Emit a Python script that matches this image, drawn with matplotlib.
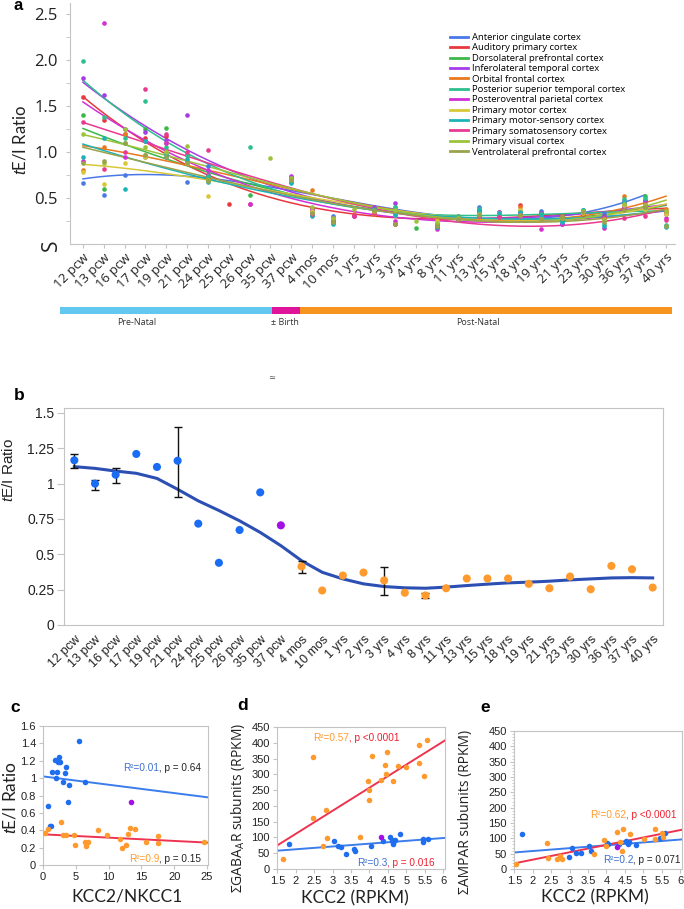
import numpy as np
import matplotlib
matplotlib.use("Agg")
import matplotlib.pyplot as plt
from matplotlib.lines import Line2D

plt.rcParams["mathtext.fontset"] = "custom"
plt.rcParams["mathtext.it"] = "Liberation Sans:italic"
plt.rcParams["mathtext.rm"] = "Liberation Sans"

nan = np.nan
W, H = 684, 909

# ---------------- data ----------------
ages = ["12 pcw", "13 pcw", "16 pcw", "17 pcw", "19 pcw", "21 pcw", "24 pcw", "25 pcw", "26 pcw",
        "35 pcw", "37 pcw", "4 mos", "10 mos", "1 yrs", "2 yrs", "3 yrs", "4 yrs", "8 yrs", "11 yrs",
        "13 yrs", "15 yrs", "18 yrs", "19 yrs", "21 yrs", "23 yrs", "30 yrs", "36 yrs", "37 yrs", "40 yrs"]

regions = ["Anterior cingulate cortex", "Auditory primary cortex", "Dorsolateral prefrontal cortex",
           "Inferolateral temporal cortex", "Orbital frontal cortex", "Posterior superior temporal cortex",
           "Posteroventral parietal cortex", "Primary motor cortex", "Primary motor-sensory cortex",
           "Primary somatosensory cortex", "Primary visual cortex", "Ventrolateral prefrontal cortex"]
region_colors = ["#4a78e6", "#e8383d", "#3cb84a", "#a63ce8", "#e8791e", "#2dbf8c",
                 "#d22fd6", "#d8c838", "#1bb3b8", "#e83a90", "#9cc43a", "#9aa24a"]

acc   = [0.66, 0.53, 0.75, 0.95, 0.95, 0.67, 0.85, nan, nan, nan, 0.68, 0.36, 0.30, nan, 0.36, 0.33, nan, 0.22, 0.28, 0.40, 0.35, 0.36, 0.36, 0.30, 0.37, 0.34, 0.44, 0.47, nan]
aud   = [1.60, 1.35, 1.20, 1.15, 1.17, 0.97, 0.75, 0.44, 0.43, nan, 0.72, 0.38, 0.25, 0.30, 0.36, 0.22, nan, 0.19, 0.27, 0.36, 0.30, 0.42, 0.27, 0.26, 0.33, 0.28, 0.45, 0.40, 0.35]
dlpfc = [1.40, 0.60, 1.10, 1.25, 1.26, 0.97, 0.73, nan, 0.53, nan, 0.70, 0.35, 0.24, nan, 0.38, 0.40, 0.17, 0.21, 0.28, 0.37, nan, 0.33, 0.34, 0.27, 0.35, 0.30, 0.40, 0.52, 0.20]
ilt   = [1.80, 1.62, 1.25, 1.22, 1.13, 1.40, 0.75, nan, nan, nan, 0.74, 0.37, 0.28, nan, 0.40, 0.45, nan, 0.18, 0.27, 0.33, nan, 0.33, 0.34, 0.22, nan, 0.30, 0.47, 0.48, 0.33]
ofc   = [0.80, 1.05, 1.20, 0.97, 1.10, 0.90, 0.72, nan, nan, nan, 0.71, 0.59, 0.25, 0.33, 0.33, 0.35, nan, 0.26, 0.30, 0.30, nan, 0.40, 0.30, 0.30, 0.36, 0.28, 0.52, 0.44, 0.38]
stc   = [1.99, 1.38, 1.15, 1.55, 1.05, 0.97, 0.74, nan, 1.05, nan, 0.67, 0.32, 0.23, nan, 0.37, 0.40, nan, 0.22, 0.30, 0.38, 0.33, 0.36, 0.33, 0.25, 0.37, 0.22, 0.49, 0.50, 0.21]
pvp   = [0.90, 2.40, 0.95, 1.12, 1.10, 0.88, 0.80, nan, 0.43, nan, 0.73, 0.38, 0.26, 0.30, 0.37, 0.25, nan, 0.16, 0.27, 0.34, 0.35, 0.34, 0.16, 0.22, nan, 0.17, 0.40, 0.42, 0.28]
m1    = [0.78, 0.65, 0.88, 0.95, 1.00, 0.88, 0.52, nan, nan, nan, 0.70, 0.36, 0.27, nan, 0.35, 0.32, nan, 0.25, 0.26, 0.33, 0.34, 0.37, 0.27, 0.28, 0.34, 0.26, 0.42, 0.38, 0.33]
m1s1  = [0.95, 1.15, 0.60, 1.12, 0.98, 0.92, 0.67, nan, nan, nan, 0.66, 0.30, 0.22, nan, 0.38, 0.32, nan, 0.19, 0.26, 0.37, 0.34, 0.35, 0.30, 0.24, 0.37, 0.20, 0.46, 0.40, 0.19]
s1    = [1.33, 0.82, 1.00, 1.68, 1.20, 1.00, 1.02, nan, nan, nan, 0.71, 0.33, 0.25, 0.32, 0.34, 0.22, nan, 0.22, 0.26, 0.30, 0.29, 0.30, 0.27, 0.28, nan, 0.28, 0.28, 0.30, 0.26]
v1    = [1.20, 0.88, 1.25, 1.05, 1.00, 1.06, 0.70, nan, nan, 0.93, 0.72, 0.40, 0.28, 0.38, 0.36, 0.37, 0.25, 0.23, 0.28, 0.33, nan, 0.31, 0.27, 0.28, 0.36, 0.27, 0.43, 0.42, 0.36]
vlpfc = [0.88, 0.90, 1.10, 0.97, 0.95, 0.88, 0.68, nan, nan, nan, 0.70, 0.34, 0.24, nan, 0.37, 0.22, nan, 0.20, 0.27, 0.31, nan, 0.32, 0.27, 0.29, 0.35, 0.24, 0.37, 0.40, 0.20]
region_vals = [acc, aud, dlpfc, ilt, ofc, stc, pvp, m1, m1s1, s1, v1, vlpfc]

stages = ["Pre-Natal", "± Birth", "Post-Natal"]
stage_colors = ["#62c8f0", "#e0149b", "#f7941d"]
stage_edges = [-1.1, 9.08, 10.42, 28.29]      # in age-index units

# panel b: mean tE/I across regions
b_ratio = [1.165, 1.0, 1.063, 1.21, 1.118, 1.162, 0.717, 0.44, 0.672, 0.938, 0.705, 0.414, 0.244, 0.35, 0.371,
           0.315, 0.228, 0.209, 0.26, 0.329, 0.329, 0.329, 0.291, 0.26, 0.343, 0.253, 0.418, 0.394, 0.265]
b_err_lo = [1.108, 0.958, 1.005, nan, nan, 0.906, nan, nan, nan, nan, nan, 0.366, nan, nan, nan,
            0.209, nan, 0.188, nan, nan, nan, nan, nan, nan, nan, nan, nan, nan, nan]
b_err_hi = [1.207, 1.028, 1.11, nan, nan, 1.404, nan, nan, nan, nan, nan, 0.453, nan, nan, nan,
            0.408, nan, 0.225, nan, nan, nan, nan, nan, nan, nan, nan, nan, nan, nan]
b_fit = [1.12, 1.108, 1.089, 1.073, 1.037, 0.96, 0.878, 0.81, 0.737, 0.655, 0.561, 0.455, 0.373, 0.326, 0.291,
         0.272, 0.263, 0.26, 0.268, 0.279, 0.289, 0.298, 0.303, 0.31, 0.319, 0.326, 0.333, 0.335, 0.333]
b_stage = ["pre"] * 10 + ["birth"] + ["post"] * 18
point_colors = {"pre": "#1a6cf5", "birth": "#a40fe6", "post": "#ff9a2e"}

# panel c: tE/I vs KCC2/NKCC1
c_pre_x = [0.77, 1.12, 1.28, 1.38, 1.79, 1.94, 2.14, 2.30, 2.45, 2.55, 3.06, 3.30, 3.57, 3.83, 3.98, 5.50, 6.38]
c_pre_y = [0.68, 0.45, 0.45, 1.07, 1.21, 1.00, 1.07, 1.19, 1.24, 1.18, 0.95, 1.06, 1.13, 0.73, 0.92, 1.43, 0.95]
c_post_x = [0.26, 0.77, 2.70, 3.06, 3.50, 4.70, 4.85, 6.38, 6.60, 6.90, 8.40, 9.80, 11.8, 12.1, 12.7, 12.9,
            13.2, 14.0, 15.7, 17.55, 17.55, 24.6]
c_post_y = [0.37, 0.42, 0.49, 0.34, 0.35, 0.34, 0.23, 0.27, 0.22, 0.27, 0.40, 0.34, 0.30, 0.20, 0.23, 0.36,
            0.43, 0.42, 0.27, 0.33, 0.25, 0.26]
c_birth = [13.4, 0.72]
c_pre_line = [1.02, -0.0096]      # intercept, slope
c_post_line = [0.353, -0.0038]

# panel d: GABAAR vs KCC2
d_pre_x = [1.81, 3.05, 3.14, 3.23, 3.36, 3.59, 3.61, 4.05, 4.38, 4.56, 4.61, 4.63, 4.64, 4.70, 4.84, 5.44, 5.44, 5.60]
d_pre_y = [80, 88, 72, 70, 49, 64, 57, 74, 88, 100, 92, 82, 78, 93, 110, 94, 87, 96]
d_post_x = [1.66, 2.47, 2.47, 2.73, 2.82, 2.85, 3.73, 3.96, 4.0, 4.0, 4.07, 4.32, 4.43, 4.45, 4.48, 4.65,
            4.77, 5.0, 5.34, 5.34, 5.48, 5.55]
d_post_y = [33, 354, 162, 72, 186, 98, 101, 279, 249, 219, 358, 283, 328, 301, 371, 280, 327, 322, 393, 335, 294, 409]
d_birth = [4.32, 100]
d_pre_line = [44.7, 8.9]
d_post_line = [-34.7, 73.1]

# panel e: AMPAR vs KCC2
e_pre_x = [1.70, 2.98, 3.07, 3.16, 3.30, 3.53, 3.58, 4.02, 4.04, 4.34, 4.54, 4.58, 4.62, 4.81, 5.44, 5.59]
e_pre_y = [113, 39, 68, 52, 53, 76, 59, 86, 80, 83, 90, 81, 87, 78, 101, 118]
e_post_x = [1.55, 2.38, 2.40, 2.66, 2.75, 2.80, 3.67, 3.92, 3.99, 4.29, 4.38, 4.43, 4.44, 4.64, 5.01, 5.33,
            5.33, 5.50, 5.54]
e_post_y = [15, 86, 36, 33, 42, 33, 48, 93, 75, 122, 87, 60, 129, 114, 97, 129, 97, 116, 104]
e_birth = [4.29, 72]
e_pre_line = [40.0, 9.33]
e_post_line = [-17.7, 24.1]

# ---------------- layout helpers ----------------
fig = plt.figure(figsize=(W / 100, H / 100), dpi=100)


def box(l, t, r, b):
    return [l / W, 1 - b / H, (r - l) / W, (b - t) / H]


def ftext(x, y, s, **kw):
    return fig.text(x / W, 1 - y / H, s, **kw)


GRID = "#c4c4c4"
TXT = "#222222"
SANS = "Liberation Sans"
x = np.arange(len(ages))

# ---------------- panel a ----------------
ax_a = fig.add_axes(box(70, 3, 675, 244))
for vals, col in zip(region_vals, region_colors):
    v = np.array(vals)
    m = ~np.isnan(v)
    ax_a.scatter(x[m], v[m], s=11, color=col, lw=0, zorder=3)
    coef = np.polyfit(x[m], v[m], 3)
    xs = np.linspace(x[m].min(), x[m].max(), 200)
    ax_a.plot(xs, np.polyval(coef, xs), color=col, lw=1.1, zorder=2)
ax_a.set_xlim(-0.62, 28.43)
ax_a.set_ylim(0, 2.62)
for s in ("top", "right"):
    ax_a.spines[s].set_visible(False)
for s in ("left", "bottom"):
    ax_a.spines[s].set_color(GRID)
ax_a.set_yticks([0.5, 1.0, 1.5, 2.0, 2.5])
ax_a.set_yticklabels(["0.5", "1.0", "1.5", "2.0", "2.5"], fontsize=12, family="Open Sans", color=TXT)
ax_a.set_yticks([0.25, 0.75, 1.25, 1.75, 2.25], minor=True)
ax_a.tick_params(axis="y", which="both", length=3, color=GRID, pad=6)
ax_a.set_xticks(x)
ax_a.set_xticklabels(ages, rotation=45, ha="right", rotation_mode="anchor", fontsize=9.5,
                     family="Open Sans", color=TXT)
ax_a.tick_params(axis="x", length=3, color=GRID, pad=2)
ftext(51, 245, "S", rotation=90, fontsize=15, family="Open Sans", color=TXT, ha="center", va="center")
ftext(20, 140, "$t$E/I Ratio", rotation=90, fontsize=12, family="Lato", color=TXT, ha="center", va="center")
ftext(18, 6, "a", fontsize=12, fontweight="bold", family=SANS, ha="center", va="center")

handles = [Line2D([0], [0], color=c, lw=2) for c in region_colors]
ax_a.legend(handles, regions, loc="upper left", bbox_to_anchor=(450 / W, 1 - 33 / H),
            bbox_transform=fig.transFigure, frameon=False, handlelength=1.9,
            handletextpad=0.4, labelspacing=0.15, borderpad=0, borderaxespad=0,
            prop={"family": "Open Sans", "size": 6.8})

# timeline bar
ax_t = fig.add_axes(box(60, 307, 672, 314))
for i, col in enumerate(stage_colors):
    ax_t.barh(0, stage_edges[i + 1] - stage_edges[i], left=stage_edges[i], height=1, color=col)
ax_t.set_xlim(stage_edges[0], stage_edges[-1])
ax_t.set_ylim(-0.5, 0.5)
ax_t.axis("off")
for name, cx in zip(stages, [2.6, 9.7, 18.98]):
    ax_t.text(cx, -1.25, name, transform=ax_t.get_xaxis_transform(), ha="center", va="center",
              fontsize=6.5, family="Open Sans", color="#333333")
ftext(272, 377, "≃", fontsize=6, color="#555555", ha="center", va="center")

# ---------------- panel b ----------------
ax_b = fig.add_axes(box(64, 408, 663, 625))
ax_b.plot(x, b_fit, color="#2b4fb3", lw=2.2, zorder=2)
lo, hi, r = np.array(b_err_lo), np.array(b_err_hi), np.array(b_ratio)
m = ~np.isnan(lo)
ax_b.errorbar(x[m], r[m], yerr=[r[m] - lo[m], hi[m] - r[m]], fmt="none", ecolor="#111111",
              elinewidth=1, capsize=3, capthick=1, zorder=3)
ax_b.scatter(x, b_ratio, s=34, c=[point_colors[s] for s in b_stage], lw=0, zorder=4)
ax_b.set_xlim(-0.5, 28.5)
ax_b.set_ylim(0, 1.535)
for s in ax_b.spines.values():
    s.set_color(GRID)
ax_b.set_yticks([0, 0.25, 0.5, 0.75, 1.0, 1.25, 1.5])
ax_b.set_yticklabels(["0", "0.25", "0.5", "0.75", "1", "1.25", "1.5"], fontsize=10, family=SANS, color=TXT)
ax_b.tick_params(axis="y", length=5, color=GRID, pad=2)
ax_b.set_xticks(x)
ax_b.set_xticklabels(ages, rotation=45, ha="right", rotation_mode="anchor", fontsize=9, family=SANS, color=TXT)
ax_b.tick_params(axis="x", length=0, pad=6)
ftext(9, 470, "$t$E/I Ratio", rotation=90, fontsize=11, family=SANS, color=TXT, ha="center", va="center")
ftext(19, 396, "b", fontsize=12.5, fontweight="bold", family=SANS, ha="center", va="center")


# ---------------- panels c-e ----------------
def scatter_panel(ax, pre, post, birth, pre_line, post_line, xlim):
    ax.scatter(pre[0], pre[1], s=16, color="#1f6ef0", lw=0, zorder=3)
    ax.scatter(post[0], post[1], s=16, color="#ff9a2e", lw=0, zorder=3)
    ax.scatter([birth[0]], [birth[1]], s=16, color="#a40fe6", lw=0, zorder=3)
    xs = np.array(xlim)
    ax.plot(xs, pre_line[0] + pre_line[1] * xs, color="#3b7deb", lw=1.4, zorder=2)
    ax.plot(xs, post_line[0] + post_line[1] * xs, color="#ee3350", lw=1.4, zorder=2)
    ax.set_xlim(*xlim)
    for s in ax.spines.values():
        s.set_color(GRID)
    ax.tick_params(length=3, color=GRID, labelsize=8, labelcolor=TXT, pad=2)


def two_tone(ax, xf, yf, first, c1, second, c2):
    t1 = ax.text(xf, yf, first, transform=ax.transAxes, color=c1, fontsize=7.2, family=SANS,
                 ha="left", va="center")
    ax.annotate(second, xy=(1, 0), xycoords=t1, va="bottom", ha="left", color=c2, fontsize=7.2, family=SANS)


ax_c = fig.add_axes(box(43, 726, 208, 865))
scatter_panel(ax_c, (c_pre_x, c_pre_y), (c_post_x, c_post_y), c_birth, c_pre_line, c_post_line, (0, 25.15))
ax_c.set_ylim(0, 1.6)
ax_c.set_xticks([0, 5, 10, 15, 20, 25])
ax_c.set_xticklabels(["0", "5", "10", "15", "20", "25"], family=SANS)
ax_c.set_yticks(np.arange(0, 1.61, 0.2))
ax_c.set_yticklabels(["0", "0.2", "0.4", "0.6", "0.8", "1", "1.2", "1.4", "1.6"], family=SANS)
two_tone(ax_c, 0.485, 0.70, "R²=0.01", "#3d6fd0", ", p = 0.64", TXT)
two_tone(ax_c, 0.52, 0.043, "R²=0.9", "#ff9a2e", ", p = 0.15", TXT)
ftext(127, 897, "KCC2/NKCC1", fontsize=12.5, family="Lato", color=TXT, ha="center", va="center")
ftext(10, 797, "$t$E/I Ratio", rotation=90, fontsize=12.5, family="Lato", color=TXT, ha="center", va="center")
ftext(15, 707, "c", fontsize=12.5, fontweight="bold", family=SANS, ha="center", va="center")

kcc_ticks = [1.5, 2, 2.5, 3, 3.5, 4, 4.5, 5, 5.5, 6]
kcc_labels = ["1.5", "2", "2.5", "3", "3.5", "4", "4.5", "5", "5.5", "6"]

ax_d = fig.add_axes(box(277, 727, 445, 869))
scatter_panel(ax_d, (d_pre_x, d_pre_y), (d_post_x, d_post_y), d_birth, d_pre_line, d_post_line, (1.49, 6.05))
ax_d.set_ylim(0, 450)
ax_d.set_xticks(kcc_ticks)
ax_d.set_xticklabels(kcc_labels, family=SANS)
ax_d.set_yticks(np.arange(0, 451, 50))
ax_d.set_yticklabels([str(v) for v in range(0, 451, 50)], family=SANS)
two_tone(ax_d, 0.214, 0.92, "R²=0.57", "#ff9a2e", ", p <0.0001", "#ee2030")
two_tone(ax_d, 0.476, 0.042, "R²=0.3", "#3d6fd0", ", p = 0.016", "#ee2030")
ftext(355, 898, "KCC2 (RPKM)", fontsize=12.5, family="Lato", color=TXT, ha="center", va="center")
ftext(238, 808, r"ΣGABA$_\mathregular{A}$R subunits (RPKM)", rotation=90, fontsize=10, family="Open Sans",
      color=TXT, ha="center", va="center")
ftext(243, 705, "d", fontsize=12.5, fontweight="bold", family=SANS, ha="center", va="center")

ax_e = fig.add_axes(box(514, 731, 682, 869))
scatter_panel(ax_e, (e_pre_x, e_pre_y), (e_post_x, e_post_y), e_birth, e_pre_line, e_post_line, (1.49, 6.05))
ax_e.set_ylim(0, 450)
ax_e.set_xticks(kcc_ticks)
ax_e.set_xticklabels(kcc_labels, family=SANS)
ax_e.set_yticks(np.arange(0, 451, 50))
ax_e.set_yticklabels([str(v) for v in range(0, 451, 50)], family=SANS)
ax_e.set_yticks(np.arange(0, 451, 10), minor=True)
ax_e.tick_params(axis="y", which="minor", length=1.5, color=GRID)
two_tone(ax_e, 0.452, 0.39, "R²=0.62", "#ff9a2e", ", p <0.0001", "#ee2030")
two_tone(ax_e, 0.53, 0.065, "R²=0.2", "#3d6fd0", ", p = 0.071", TXT)
ftext(595, 897, "KCC2 (RPKM)", fontsize=12.5, family="Lato", color=TXT, ha="center", va="center")
ftext(465, 812, "ΣAMPAR subunits (RPKM)", rotation=90, fontsize=10, family="Open Sans",
      color=TXT, ha="center", va="center")
ftext(485, 707, "e", fontsize=12.5, fontweight="bold", family=SANS, ha="center", va="center")

fig.savefig("out.png", dpi=100)
